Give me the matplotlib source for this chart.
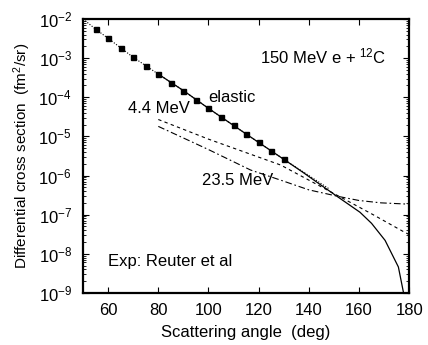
import matplotlib
matplotlib.use("Agg")
import matplotlib.pyplot as plt
from matplotlib.ticker import LogLocator, FixedLocator, NullFormatter, FuncFormatter
import numpy as np

plt.rcParams['font.family'] = ['Liberation Sans', 'DejaVu Sans']
plt.rcParams['mathtext.fontset'] = 'custom'
plt.rcParams['mathtext.rm'] = 'Liberation Sans'
plt.rcParams['mathtext.it'] = 'Liberation Sans:italic'
plt.rcParams['mathtext.bf'] = 'Liberation Sans:bold'

# Experimental elastic data (Reuter et al)
exp_angle = [55, 60, 65, 70, 75, 80, 85, 90, 95, 100, 105, 110, 115, 120, 125, 130]
exp_xs = [5.5e-3, 3.2e-3, 1.8e-3, 1.05e-3, 6.4e-4, 3.9e-4, 2.3e-4, 1.48e-4,
          8.5e-5, 5.2e-5, 3.1e-5, 1.9e-5, 1.15e-5, 7.0e-6, 4.3e-6, 2.6e-6]

# Elastic dotted curve
el_dot_angle = [50, 55, 60, 70, 80, 90, 100, 110, 120, 130, 140, 148]
el_dot_xs = [1.0e-2, 5.5e-3, 3.2e-3, 1.05e-3, 3.9e-4, 1.48e-4, 5.2e-5, 1.9e-5,
             7.0e-6, 2.6e-6, 1.0e-6, 4.6e-7]

# Elastic solid curve
el_angle = [80, 90, 100, 110, 120, 130, 137.7, 145, 151.7, 160.4, 165, 170.4, 175.7, 179]
el_xs = [3.9e-4, 1.48e-4, 5.2e-5, 1.9e-5, 7.0e-6, 2.6e-6, 1.2e-6, 5.6e-7, 2.8e-7,
         1.15e-7, 6.0e-8, 2.2e-8, 4.6e-9, 4e-10]

# 4.4 MeV (dashed)
e44_angle = [80, 100, 128.8, 152, 165, 178, 180]
e44_xs = [2.7e-5, 8.5e-6, 1.85e-6, 2.95e-7, 1.05e-7, 3.6e-8, 3.1e-8]

# 23.5 MeV (dash-dot)
e235_angle = [80, 100, 116.8, 128.8, 140, 152, 160, 168.8, 180]
e235_xs = [1.8e-5, 4.6e-6, 1.38e-6, 7.6e-7, 4.3e-7, 2.9e-7, 2.3e-7, 2.0e-7, 1.85e-7]

fig = plt.figure(figsize=(4.28, 3.45), dpi=100)
ax = fig.add_axes([0.194, 0.151, 0.762, 0.794])

ax.plot(el_dot_angle, el_dot_xs, color='black', lw=0.8, ls=(0, (1, 1.5)))
ax.plot(el_angle, el_xs, color='black', lw=0.9, ls='-')
ax.plot(e44_angle, e44_xs, color='black', lw=0.8, ls=(0, (3, 3)))
ax.plot(e235_angle, e235_xs, color='black', lw=0.8, ls=(0, (6, 2.5, 1.5, 2.5)))
ax.plot(exp_angle, exp_xs, ls='none', marker='s', ms=3.6, color='black')

ax.set_xlim(50, 180)
ax.set_ylim(1e-9, 1e-2)
ax.set_yscale('log')
ax.xaxis.set_major_locator(FixedLocator([60, 80, 100, 120, 140, 160, 180]))
ax.yaxis.set_major_locator(LogLocator(base=10, numticks=20))
ax.yaxis.set_minor_locator(LogLocator(base=10, subs=np.arange(2, 10), numticks=20))
ax.yaxis.set_minor_formatter(NullFormatter())
ax.yaxis.set_major_formatter(FuncFormatter(lambda v, p: r'$10^{%d}$' % int(round(np.log10(v)))))

ax.tick_params(which='both', direction='in', top=True, right=True, labelsize=12)
ax.tick_params(which='major', length=4, width=0.8)
ax.tick_params(which='minor', length=2, width=0.6)
ax.tick_params(axis='x', pad=7)
ax.tick_params(axis='y', pad=8)
for s in ax.spines.values():
    s.set_linewidth(1.6)

ax.set_xlabel('Scattering angle  (deg)', fontsize=12, labelpad=5)
ax.set_ylabel(r'Differential cross section  (fm$^2$/sr)', fontsize=11, labelpad=4)

ax.text(120.5, 10**-2.97, r'150 MeV e + $^{12}$C', fontsize=12, va='center', ha='left')
ax.text(100, 10**-4.0, 'elastic', fontsize=12, va='center', ha='left')
ax.text(68, 10**-4.28, '4.4 MeV', fontsize=12, va='center', ha='left')
ax.text(97.5, 10**-6.12, '23.5 MeV', fontsize=12, va='center', ha='left')
ax.text(60, 10**-8.21, 'Exp: Reuter et al', fontsize=12, va='center', ha='left')

fig.savefig('out.png', dpi=100)
